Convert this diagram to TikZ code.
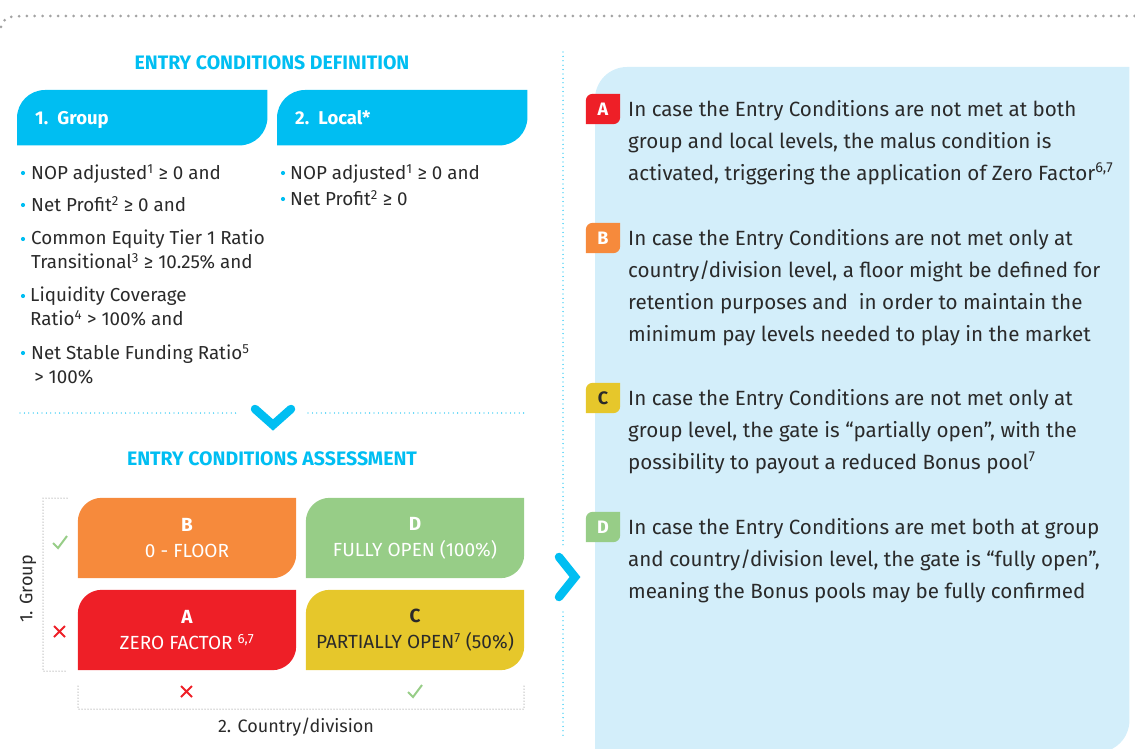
\documentclass[tikz,border=0pt]{standalone}
\usepackage{fontspec}
\setmainfont{Fira Sans}
\usetikzlibrary{backgrounds}
\definecolor{ccyan}{HTML}{00BEF2}
\definecolor{cpanel}{HTML}{D3EEFA}
\definecolor{corange}{HTML}{F68A3C}
\definecolor{cgreen}{HTML}{97CD87}
\definecolor{cred}{HTML}{EE1F27}
\definecolor{cyellow}{HTML}{E6C72B}
\definecolor{ctext}{HTML}{2A2A2A}
\definecolor{cgrey}{HTML}{A3A3A3}
\definecolor{cdots}{HTML}{666666}
% filled box with rounded top-left and bottom-right corners (#3 radius, #4 = 0.448*radius)
\newcommand\tabfill[4]{\fill[#2] (#1.south west) -- ([yshift=-#3]#1.north west) .. controls ([yshift=-#4]#1.north west) and ([xshift=#4]#1.north west) .. ([xshift=#3]#1.north west) -- (#1.north east) -- ([yshift=#3]#1.south east) .. controls ([yshift=#4]#1.south east) and ([xshift=-#4]#1.south east) .. ([xshift=-#3]#1.south east) -- cycle;}
\tikzset{
  heading/.style={text=ccyan, font=\fontsize{19.5}{22}\selectfont\bfseries},
  tabbox/.style={minimum height=55pt, text width=214pt, inner xsep=18pt, inner ysep=0pt, text height=16pt, text depth=2pt, align=left, text=white, font=\fontsize{18.5}{22}\selectfont\bfseries},
  item/.style={anchor=north west, inner sep=0pt, align=left, text=ctext, font=\fontsize{18.8}{24}\selectfont},
  gridbox/.style={minimum width=218pt, minimum height=80pt, inner sep=0pt, align=center, font=\fontsize{19}{26}\selectfont},
  badge/.style={minimum width=34pt, minimum height=30pt, inner sep=0pt, font=\fontsize{18}{20}\selectfont\bfseries},
  para/.style={anchor=north west, inner sep=0pt, align=left, text=ctext, font=\fontsize{20.6}{32}\selectfont},
  axis/.style={text=ctext, font=\fontsize{18}{20}\selectfont},
  cyandots/.style={ccyan, line width=1.3pt, line cap=round, dash pattern=on 0pt off 4.4pt},
  greydots/.style={cgrey, line width=3pt, line cap=round, dash pattern=on 0pt off 7.8pt},
  bracketdots/.style={cdots, line width=1pt, line cap=round, dash pattern=on 0pt off 3pt},
  chevron/.style={ccyan, line width=8.5pt, line cap=round, line join=miter},
  crossmark/.style={cred, line width=2pt},
  checkmark/.style={cgreen, line width=2pt},
}
\begin{document}
\begin{tikzpicture}[x=1pt,y=-1pt]
\useasboundingbox (0,0) rectangle (1135,749);
% top grey dotted line
\draw[greydots] (1,27) .. controls (5,17) .. (22,16) -- (1135,16);

% right panel
\node[minimum width=534pt, minimum height=685pt, inner sep=0pt, anchor=north west] (panel) at (595,67) {};
\begin{scope}[on background layer]
\tabfill{panel}{cpanel}{32pt}{14.3pt}
\end{scope}

% headings
\node[heading] (h1) at (272,63) {ENTRY CONDITIONS DEFINITION};
\node[heading] (h2) at (272,459) {ENTRY CONDITIONS ASSESSMENT};

% tabs
\node[tabbox, minimum width=250pt, anchor=north west] (tgroup) at (17,90) {1. Group};
\node[tabbox, minimum width=248pt, anchor=north west] (tlocal) at (277,90) {2. Local*};
\begin{scope}[on background layer]
\tabfill{tgroup}{ccyan}{28pt}{12.5pt}
\tabfill{tlocal}{ccyan}{28pt}{12.5pt}
\end{scope}

% group list
\foreach \yy in {173,205,239,296,353} {\fill[ccyan] (23,\yy) circle (2.1);}
\node[item] (g1) at (31,164) {NOP adjusted\textsuperscript{1} ≥ 0 and};
\node[item] (g2) at (31,196) {Net Profit\textsuperscript{2} ≥ 0 and};
\node[item] (g3) at (31,230) {Common Equity Tier 1 Ratio\\Transitional\textsuperscript{3} ≥ 10.25\% and};
\node[item] (g4) at (30,287) {Liquidity Coverage\\Ratio\textsuperscript{4} > 100\% and};
\node[item] (g5) at (31,344) {Net Stable Funding Ratio\textsuperscript{5}\\\,> 100\%};
% local list
\foreach \yy in {173,199} {\fill[ccyan] (283,\yy) circle (2.1);}
\node[item] (l1) at (290,164) {NOP adjusted\textsuperscript{1} ≥ 0 and};
\node[item] (l2) at (290,190) {Net Profit\textsuperscript{2} ≥ 0};

% separator with down chevron
\draw[cyandots] (20,413) -- (236,413);
\draw[cyandots] (308,413) -- (527,413);
\coordinate (cvl) at (255,409);
\coordinate (cvt) at (273,425);
\coordinate (cvr) at (291,409);
\draw[chevron] (cvl) -- (cvt) -- (cvr);

% grid boxes
\node[gridbox, text=white] (bB) at (187,538) {\textbf{B}\\0 - FLOOR};
\node[gridbox, text=white] (bD) at (415,538) {\textbf{D}\\FULLY OPEN (100\%)};
\node[gridbox, text=white] (bA) at (187,630) {\textbf{A}\\ZERO FACTOR \textsuperscript{6,7}};
\node[gridbox, text=ctext] (bC) at (415,630) {\textbf{C}\\PARTIALLY OPEN\textsuperscript{7} (50\%)};
\begin{scope}[on background layer]
\tabfill{bB}{corange}{24pt}{10.7pt}
\tabfill{bD}{cgreen}{24pt}{10.7pt}
\tabfill{bA}{cred}{24pt}{10.7pt}
\tabfill{bC}{cyellow}{24pt}{10.7pt}
\end{scope}

% left bracket
\draw[bracketdots] (67,498) -- (43,498) -- (43,671) -- (67,671);
\draw[checkmark] (53,543) -- (58,548) -- (67,536);
\draw[crossmark] (54,626) -- (65,637) (65,626) -- (54,637);
\node[axis, rotate=90] (ygroup) at (28,589) {1. Group};

% bottom bracket
\draw[bracketdots] (78,686) -- (78,709) -- (524,709) -- (524,686);
\draw[crossmark] (181,686) -- (192,697) (192,686) -- (181,697);
\draw[checkmark] (408,692) -- (413,697) -- (422,685);
\node[axis] (xcountry) at (296,727) {2. Country/division};

% vertical separator with right chevron
\draw[cyandots] (563,52) -- (563,546);
\draw[cyandots] (563,612) -- (563,738);
\coordinate (crt) at (559,557);
\coordinate (crm) at (575,577);
\coordinate (crb) at (559,597);
\draw[chevron] (crt) -- (crm) -- (crb);

% badges
\node[badge, text=white] (kA) at (603,109) {A};
\node[badge, text=white] (kB) at (603,238) {B};
\node[badge, text=ctext] (kC) at (603,398) {C};
\node[badge, text=white] (kD) at (603,527) {D};
\begin{scope}[on background layer]
\tabfill{kA}{cred}{7pt}{3.1pt}
\tabfill{kB}{corange}{7pt}{3.1pt}
\tabfill{kC}{cyellow}{7pt}{3.1pt}
\tabfill{kD}{cgreen}{7pt}{3.1pt}
\end{scope}

% explanations
\node[para] (pA) at (628,100) {In case the Entry Conditions are not met at both\\group and local levels, the malus condition is\\activated, triggering the application of Zero Factor\textsuperscript{6,7}};
\node[para] (pB) at (628,229) {In case the Entry Conditions are not met only at\\country/division level, a floor might be defined for\\retention purposes and \ in order to maintain the\\minimum pay levels needed to play in the market};
\node[para] (pC) at (628,389) {In case the Entry Conditions are not met only at\\group level, the gate is “partially open”, with the\\possibility to payout a reduced Bonus pool\textsuperscript{7}};
\node[para] (pD) at (628,518) {In case the Entry Conditions are met both at group\\and country/division level, the gate is “fully open”,\\meaning the Bonus pools may be fully confirmed};
\end{tikzpicture}
\end{document}
